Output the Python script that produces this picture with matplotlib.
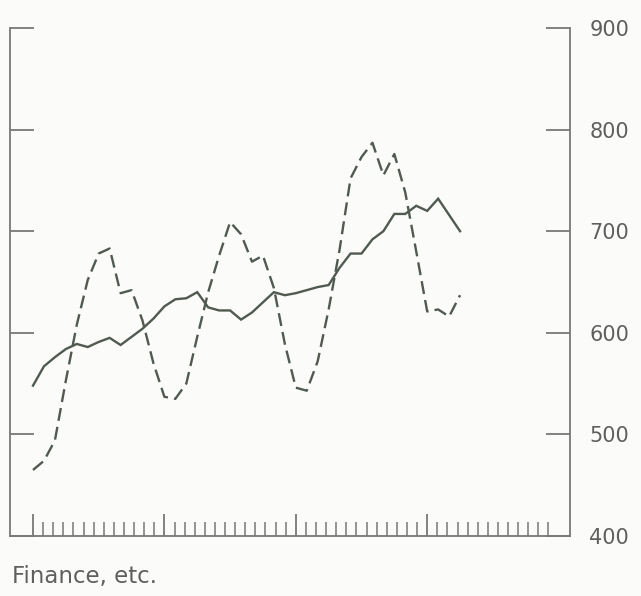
import numpy as np
import matplotlib
matplotlib.use('Agg')
import matplotlib.pyplot as plt

# monthly values, 40 months starting at the first major tick
meses = np.arange(40)
linha_solida = [548, 567, 576, 584, 589, 586, 591, 595, 588, 596,
                604, 614, 626, 633, 634, 640, 625, 622, 622, 613,
                620, 630, 640, 637, 639, 642, 645, 647, 664, 678,
                678, 692, 700, 717, 717, 725, 720, 732, 716, 700]
linha_tracejada = [465, 474, 494, 553, 608, 652, 678, 683, 639, 642,
                   612, 570, 537, 535, 550, 596, 640, 676, 709, 697,
                   670, 676, 644, 589, 546, 543, 572, 623, 682, 752,
                   773, 787, 755, 776, 738, 680, 621, 623, 616, 637]
ticks_y = [400, 500, 600, 700, 800, 900]
titulo = 'Finance, etc.'

cor_linha = '#505a51'
cor_eixo = '#767976'
cor_texto = '#5e605e'

fig = plt.figure(figsize=(6.41, 5.96), dpi=100, facecolor='#fbfbfa')
ax = fig.add_axes([10 / 641, 1 - 536 / 596, 560 / 641, 508 / 596])
ax.set_facecolor('#fbfbfa')

anos = meses / 12.0
ax.plot(anos, linha_solida, color=cor_linha, lw=1.7, solid_joinstyle='miter')
ax.plot(anos, linha_tracejada, color=cor_linha, lw=1.7, dashes=(5.5, 2.6))

ax.set_xlim(-23 / 131.4, 537 / 131.4)
ax.set_ylim(400, 900)

# spines: no top
ax.spines['top'].set_visible(False)
for lado in ['left', 'right', 'bottom']:
    ax.spines[lado].set_color(cor_eixo)
    ax.spines[lado].set_linewidth(1.3)

# x axis: 13 ticks per year, long ones on the year
ax.set_xticks(np.arange(0, 4))
ax.set_xticks(np.arange(0, 52) / 13.0, minor=True)
ax.tick_params(axis='x', which='major', direction='in', length=16,
               width=1.3, color=cor_eixo, labelbottom=False)
ax.tick_params(axis='x', which='minor', direction='in', length=10,
               width=1.1, color=cor_eixo)

# y axis: ticks both sides, labels on the right
ax.set_yticks(ticks_y)
ax.tick_params(axis='y', which='both', direction='in', length=17,
               width=1.3, color=cor_eixo, left=True, right=True,
               labelleft=False, labelright=True, pad=14,
               labelsize=15, labelcolor=cor_texto)

fig.text(12 / 641, 1 - 583 / 596, titulo, fontsize=16.5, color=cor_texto,
         ha='left', va='baseline')

fig.savefig('out.png', dpi=100, facecolor=fig.get_facecolor())
